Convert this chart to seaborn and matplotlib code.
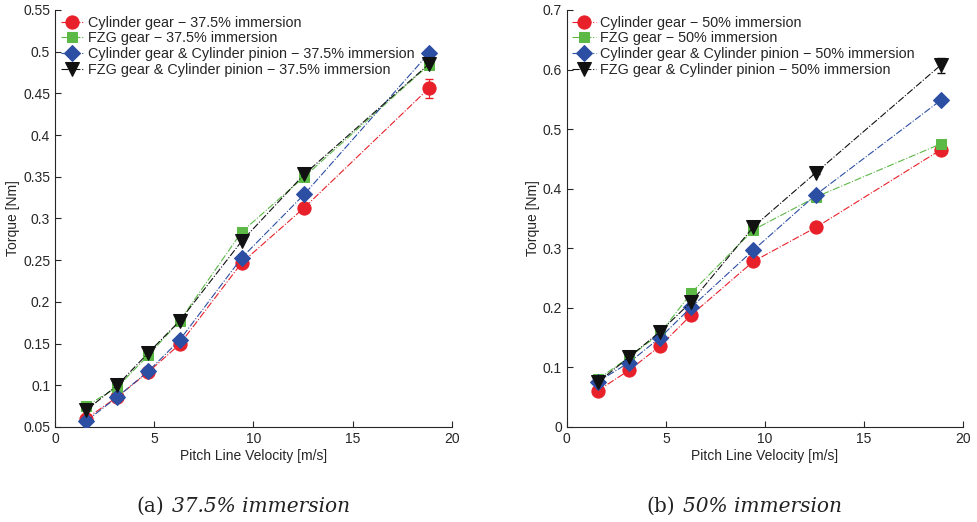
import numpy as np
import pandas as pd
import matplotlib
matplotlib.use("Agg")
import matplotlib.pyplot as plt
import seaborn as sns
from matplotlib.offsetbox import TextArea, HPacker, AnnotationBbox

sns.set_style("ticks")
plt.rcParams['font.family'] = ['Liberation Sans', 'DejaVu Sans']

velocity = [1.57, 3.14, 4.71, 6.28, 9.42, 12.57, 18.85]

# 37.5% immersion
cyl_375 = [0.060, 0.086, 0.116, 0.149, 0.247, 0.313, 0.456]
fzg_375 = [0.075, 0.098, 0.136, 0.177, 0.284, 0.350, 0.484]
cylcyl_375 = [0.057, 0.086, 0.117, 0.154, 0.253, 0.329, 0.498]
fzgcyl_375 = [0.070, 0.100, 0.139, 0.177, 0.273, 0.353, 0.485]
err_cyl_375 = [0.002, 0.002, 0.002, 0.002, 0.003, 0.003, 0.011]

# 50% immersion
cyl_50 = [0.061, 0.095, 0.136, 0.188, 0.278, 0.335, 0.465]
fzg_50 = [0.080, 0.117, 0.157, 0.225, 0.331, 0.386, 0.475]
cylcyl_50 = [0.076, 0.108, 0.150, 0.201, 0.297, 0.390, 0.548]
fzgcyl_50 = [0.075, 0.117, 0.160, 0.210, 0.336, 0.427, 0.607]
err_fzgcyl_50 = [0.002, 0.002, 0.002, 0.003, 0.003, 0.003, 0.013]

names_375 = ["Cylinder gear \u2212 37.5% immersion",
             "FZG gear \u2212 37.5% immersion",
             "Cylinder gear & Cylinder pinion \u2212 37.5% immersion",
             "FZG gear & Cylinder pinion \u2212 37.5% immersion"]
names_50 = ["Cylinder gear \u2212 50% immersion",
            "FZG gear \u2212 50% immersion",
            "Cylinder gear & Cylinder pinion \u2212 50% immersion",
            "FZG gear & Cylinder pinion \u2212 50% immersion"]

captions = [("(a)", "37.5% immersion"), ("(b)", "50% immersion")]

colors = ["#e8202a", "#5cb946", "#2c4ea3", "#111111"]
markers = ["o", "s", "D", "v"]
msizes = [9.5, 7.5, 8.5, 9.5]

left_ticks = [0.05, 0.1, 0.15, 0.2, 0.25, 0.3, 0.35, 0.4, 0.45, 0.5, 0.55]
right_ticks = [0, 0.1, 0.2, 0.3, 0.4, 0.5, 0.6, 0.7]
x_ticks = [0, 5, 10, 15, 20]

fig = plt.figure(figsize=(9.77, 5.22), dpi=100)
ax1 = fig.add_axes([0.0563, 0.182, 0.406, 0.799])
ax2 = fig.add_axes([0.580, 0.182, 0.406, 0.799])


def draw(ax, series, names, errs, ylim, yticks):
    for i, (vals, name) in enumerate(zip(series, names)):
        df = pd.DataFrame({"v": velocity, "t": vals})
        sns.lineplot(data=df, x="v", y="t", ax=ax, color=colors[i],
                     linestyle="-.", linewidth=0.8, marker=markers[i],
                     markersize=msizes[i], markeredgecolor=colors[i],
                     label=name, zorder=3 + i)
        if errs.get(i) is not None:
            ax.errorbar(velocity, vals, yerr=errs[i], fmt="none",
                        ecolor=colors[i], elinewidth=0.8, capsize=3, zorder=2)
    ax.set_xlim(0, 20)
    ax.set_ylim(*ylim)
    ax.set_xticks(x_ticks)
    ax.set_xticklabels([str(t) for t in x_ticks])
    ax.set_yticks(yticks)
    ax.set_yticklabels([("%g" % t) for t in yticks])
    ax.tick_params(direction="in", labelsize=10, length=4)
    ax.set_xlabel("Pitch Line Velocity [m/s]", fontsize=10, labelpad=2)
    ax.set_ylabel("Torque [Nm]", fontsize=10, labelpad=2)
    sns.despine(ax=ax)
    ax.legend(loc="upper left", frameon=False, fontsize=10.4, handlelength=1.6,
              handletextpad=0.3, borderaxespad=0.2, labelspacing=0.12,
              borderpad=0.2)


draw(ax1, [cyl_375, fzg_375, cylcyl_375, fzgcyl_375], names_375,
     {0: err_cyl_375}, (0.05, 0.55), left_ticks)
draw(ax2, [cyl_50, fzg_50, cylcyl_50, fzgcyl_50], names_50,
     {3: err_fzgcyl_50}, (0, 0.7), right_ticks)

for (lab, txt), xc in zip(captions, [0.249, 0.762]):
    ta = TextArea(lab, textprops=dict(family="DejaVu Serif", fontsize=14.5,
                                      color="#222222"))
    tb = TextArea(txt, textprops=dict(family="DejaVu Serif", fontsize=14.5,
                                      style="italic", color="#222222"))
    pack = HPacker(children=[ta, tb], align="baseline", pad=0, sep=6)
    ab = AnnotationBbox(pack, (xc, 0.012), xycoords="figure fraction",
                        frameon=False, box_alignment=(0.5, 0), pad=0)
    fig.add_artist(ab)

fig.savefig("out.png", dpi=100)
